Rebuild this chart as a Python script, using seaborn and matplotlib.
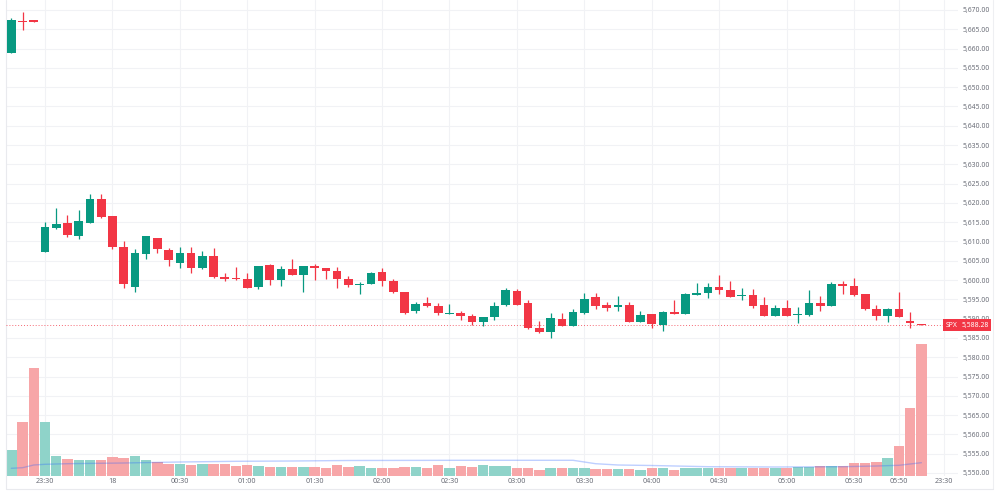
import matplotlib
matplotlib.use("Agg")
import matplotlib.pyplot as plt
import matplotlib.transforms as mtrans
from matplotlib.lines import Line2D
from matplotlib.ticker import FixedLocator, FuncFormatter
import numpy as np
import pandas as pd
import seaborn as sns

# ---------------- data (5-minute candles, SPX) ----------------
open_ = [5658.9, 5667.2, 5667.3, 5607.4, 5613.4, 5614.8, 5611.4, 5614.9, 5621.0, 5616.6,
         5608.5, 5598.2, 5606.7, 5610.9, 5607.8, 5604.5, 5606.9, 5603.0, 5606.2, 5600.8,
         5600.6, 5600.4, 5598.2, 5603.8, 5600.1, 5602.9, 5601.2, 5603.6, 5603.1, 5602.4,
         5600.3, 5598.8, 5599.1, 5602.0, 5599.8, 5597.0, 5592.1, 5594.0, 5593.4, 5591.3,
         5591.4, 5590.7, 5589.0, 5590.3, 5593.5, 5597.2, 5594.0, 5587.5, 5586.5, 5589.8,
         5588.2, 5591.4, 5595.7, 5593.5, 5592.9, 5593.6, 5589.1, 5591.1, 5588.3, 5591.8,
         5591.2, 5596.1, 5596.6, 5598.1, 5597.3, 5595.9, 5596.0, 5593.5, 5590.8, 5592.8,
         5591.0, 5590.9, 5594.0, 5593.4, 5598.9, 5598.5, 5596.4, 5592.4, 5590.7, 5592.5,
         5589.3, 5588.6]
high = [5668.0, 5669.4, 5667.3, 5615.0, 5618.7, 5616.9, 5618.2, 5622.4, 5622.2, 5616.7,
        5610.0, 5608.1, 5611.5, 5611.0, 5608.2, 5608.5, 5608.5, 5607.5, 5608.3, 5601.9,
        5603.3, 5601.7, 5603.7, 5604.2, 5603.7, 5605.5, 5603.7, 5604.2, 5603.2, 5603.3,
        5601.0, 5599.5, 5602.2, 5603.0, 5600.4, 5597.0, 5594.3, 5595.7, 5594.1, 5593.8,
        5591.9, 5591.2, 5590.5, 5594.3, 5598.0, 5597.7, 5594.7, 5589.3, 5591.5, 5591.4,
        5592.4, 5596.7, 5596.7, 5594.2, 5595.9, 5594.3, 5592.1, 5591.2, 5591.9, 5594.7,
        5596.7, 5599.2, 5599.2, 5601.3, 5599.8, 5597.9, 5597.6, 5595.5, 5593.5, 5594.8,
        5593.1, 5597.4, 5595.9, 5599.6, 5599.8, 5600.5, 5596.5, 5593.5, 5592.7, 5597.0,
        5591.7, 5588.6]
low = [5658.9, 5664.8, 5666.9, 5607.3, 5613.3, 5611.2, 5610.7, 5614.8, 5616.2, 5608.0,
       5598.0, 5596.8, 5605.4, 5606.9, 5603.7, 5603.2, 5601.7, 5602.9, 5600.6, 5599.8,
       5599.9, 5597.9, 5597.6, 5598.7, 5598.5, 5601.3, 5597.0, 5600.0, 5600.2, 5597.9,
       5598.3, 5596.3, 5599.0, 5598.5, 5596.7, 5591.2, 5591.4, 5593.1, 5590.9, 5591.2,
       5589.6, 5588.3, 5588.2, 5589.6, 5593.4, 5593.5, 5587.4, 5586.2, 5584.9, 5588.1,
       5588.1, 5591.3, 5592.6, 5591.9, 5592.1, 5589.0, 5589.0, 5587.7, 5586.9, 5591.1,
       5591.1, 5596.0, 5595.3, 5596.4, 5595.6, 5594.8, 5592.8, 5590.7, 5590.7, 5590.7,
       5588.8, 5590.8, 5592.1, 5593.3, 5596.3, 5595.9, 5592.3, 5589.6, 5589.0, 5590.4,
       5587.5, 5588.3]
close = [5667.4, 5666.8, 5666.9, 5613.7, 5614.6, 5611.6, 5615.3, 5620.9, 5616.3, 5608.6,
         5598.9, 5606.9, 5611.3, 5608.1, 5605.1, 5607.0, 5603.1, 5606.2, 5600.7, 5600.3,
         5600.2, 5598.0, 5603.6, 5600.0, 5602.9, 5601.4, 5603.6, 5603.1, 5602.4, 5600.3,
         5598.6, 5599.1, 5601.8, 5599.7, 5596.8, 5591.5, 5593.7, 5593.4, 5591.4, 5591.5,
         5590.7, 5589.0, 5590.4, 5593.4, 5597.3, 5593.6, 5587.5, 5586.5, 5590.1, 5588.2,
         5591.7, 5595.1, 5593.4, 5592.8, 5593.6, 5589.0, 5591.0, 5588.5, 5591.8, 5591.2,
         5596.3, 5596.7, 5598.3, 5597.3, 5595.7, 5596.0, 5593.4, 5590.8, 5592.8, 5590.8,
         5591.2, 5594.0, 5593.4, 5598.9, 5598.4, 5596.0, 5592.4, 5590.7, 5592.4, 5590.5,
         5588.8, 5588.3]
volume = [26.3, 54.3, 107.7, 54.0, 20.0, 17.0, 16.0, 15.7, 15.7, 19.3,
          18.0, 20.3, 16.3, 13.7, 12.3, 12.3, 11.0, 11.7, 12.0, 12.0,
          10.3, 11.0, 10.3, 9.3, 9.3, 9.0, 9.3, 9.3, 8.3, 10.7,
          8.7, 10.0, 8.3, 7.7, 7.7, 8.7, 8.7, 7.7, 10.7, 8.3,
          10.0, 9.3, 10.7, 10.0, 10.0, 8.3, 7.7, 6.3, 7.7, 7.7,
          7.7, 8.3, 7.0, 6.7, 6.7, 7.0, 6.5, 7.7, 7.7, 6.3,
          7.7, 7.7, 7.7, 8.3, 8.3, 8.3, 7.7, 8.3, 8.3, 8.3,
          8.7, 8.7, 10.0, 10.0, 10.0, 13.0, 13.0, 13.7, 17.7, 30.5,
          68.3, 132.3]
# volume moving-average line, read at selected bars
ma_bar = [0, 1, 2, 3, 5, 10, 15, 20, 25, 30, 40, 50, 52, 54, 57, 62, 68, 74, 77, 79, 81]
ma_val = [7.7, 8.3, 11.0, 11.7, 12.3, 13.0, 14.0, 14.7, 15.0, 15.5, 15.7, 15.7, 12.3, 11.0,
          10.5, 9.3, 9.0, 9.3, 10.0, 10.7, 13.3]
last_price = 5588.28
symbol = "SPX"
time_tick_bars = [3, 9, 15, 21, 27, 33, 39, 45, 51, 57, 63, 69, 75, 79, 83]
time_tick_labels = ["23:30", "18", "00:30", "01:00", "01:30", "02:00", "02:30", "03:00",
                    "03:30", "04:00", "04:30", "05:00", "05:30", "05:50", "23:30"]
price_ticks = list(range(5550, 5671, 5))

# ---------------- styling ----------------
UP = "#089981"
DOWN = "#f23645"
VOL_UP = "#8fd3c9"
VOL_DOWN = "#f7a6a8"
GRID = "#f1f2f5"
TXT = "#6b6e78"

sns.set_theme(style="white")
plt.rcParams["font.family"] = ["Noto Sans", "DejaVu Sans"]

df = pd.DataFrame({"open": open_, "high": high, "low": low, "close": close, "volume": volume})
df["bar"] = np.arange(len(df))
df["dir"] = np.where(df["close"] >= df["open"], "up", "down")

fig = plt.figure(figsize=(10, 4.91), dpi=100)
W, H = 1000, 491
left_px, right_px, bottom_px = 5.7, 958, 476
rect = [left_px / W, (H - bottom_px) / H, (right_px - left_px) / W, bottom_px / H]
XLIM = (-0.5, 84.26)
YLIM = (5549.21, 5672.59)

# background axes: grid + tick labels
gax = fig.add_axes(rect, zorder=0)
gax.set_facecolor("white")
gax.set_xlim(*XLIM)
gax.set_ylim(*YLIM)
gax.yaxis.tick_right()
gax.yaxis.set_major_locator(FixedLocator(price_ticks))
gax.yaxis.set_major_formatter(FuncFormatter(lambda v, p: f"{v:,.2f}"))
gax.set_xticks(time_tick_bars)
gax.set_xticklabels(time_tick_labels)
gax.tick_params(axis="y", length=0, pad=3.5, labelsize=4.9, labelcolor=TXT)
gax.tick_params(axis="x", length=0, pad=1.5, labelsize=5.2, labelcolor=TXT)
gax.grid(True, color=GRID, lw=0.8)
for s in gax.spines.values():
    s.set_visible(False)

# volume pane (overlay)
vax = fig.add_axes(rect, zorder=1)
vax.patch.set_visible(False)
sns.barplot(data=df, x="bar", y="volume", hue="dir", palette={"up": VOL_UP, "down": VOL_DOWN},
            native_scale=True, width=0.93, dodge=False, errorbar=None, legend=False,
            saturation=1, linewidth=0, ax=vax)
sns.lineplot(x=ma_bar, y=ma_val, ax=vax, color="#2962ff", alpha=0.3, lw=1.0)
vax.set_xlim(*XLIM)
vax.set_ylim(0, max(volume) * bottom_px / 132.3)
vax.set_xticks([])
vax.set_yticks([])
vax.set_ylabel("")
vax.set_xlabel("")
for s in vax.spines.values():
    s.set_visible(False)

# candle axes
ax = fig.add_axes(rect, zorder=2)
ax.patch.set_visible(False)
colors = [UP if d == "up" else DOWN for d in df["dir"]]
ax.vlines(df["bar"], df["low"], df["high"], colors=colors, lw=0.9, zorder=3)
body_lo = np.minimum(df["open"], df["close"])
body_h = np.maximum(np.abs(df["close"] - df["open"]), 0.25)
ax.bar(df["bar"], body_h, bottom=body_lo, width=0.77, color=colors, linewidth=0, zorder=4)
ax.axhline(last_price, color=DOWN, lw=0.7, ls=(0, (1, 2)), alpha=0.75, zorder=2)
ax.set_xlim(*XLIM)
ax.set_ylim(*YLIM)
ax.set_xticks([])
ax.set_yticks([])
for s in ax.spines.values():
    s.set_visible(False)

# price label boxes
tr = mtrans.blended_transform_factory(ax.transAxes, ax.transData)
ax.text(0.9993, last_price, symbol, transform=tr, ha="right", va="center", fontsize=4.9,
        color="white", clip_on=False, zorder=10,
        bbox=dict(boxstyle="square,pad=0.4", fc=DOWN, ec="none"))
ax.text(1.0035, last_price, f"{last_price:,.2f}", transform=tr, ha="left", va="center",
        fontsize=4.9, color="white", clip_on=False, zorder=10,
        bbox=dict(boxstyle="square,pad=0.4", fc=DOWN, ec="none"))

# widget borders
fig.add_artist(Line2D([left_px / W, left_px / W], [0.004, 1], color="#e9eaee", lw=0.8))
fig.add_artist(Line2D([993 / W, 993 / W], [0.004, 1], color="#eeeff2", lw=0.8))
fig.add_artist(Line2D([left_px / W, 993 / W], [2 / H, 2 / H], color="#e9eaee", lw=0.8))

fig.savefig("out.png", dpi=100, facecolor="white")
